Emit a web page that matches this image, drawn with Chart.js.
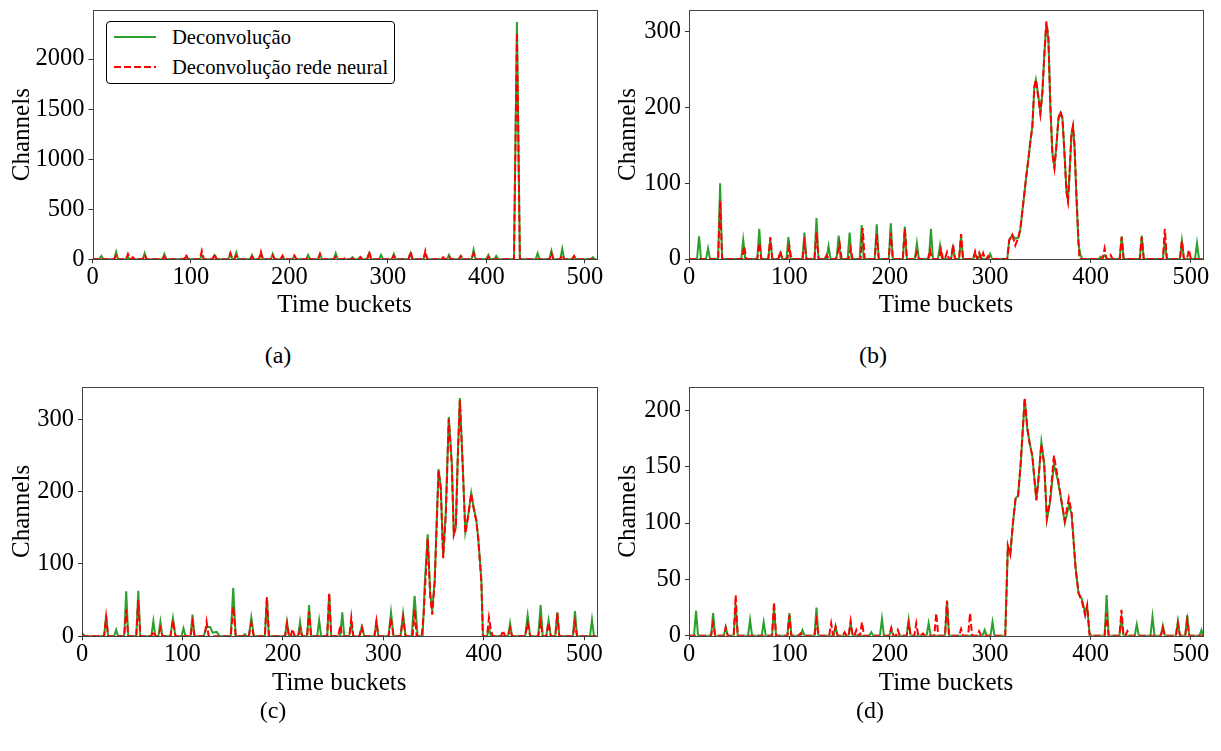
<!DOCTYPE html>
<html><head><meta charset="utf-8">
<script src="https://cdn.jsdelivr.net/npm/chart.js@4"></script>
<style>
body{margin:0;background:#fff;width:1221px;height:751px;position:relative;overflow:hidden;font-family:'Liberation Serif','DejaVu Serif',serif;color:#000}
canvas{position:absolute}
.cap{position:absolute;font-size:24px;transform:translate(-50%,-50%);white-space:nowrap}
#legend{position:absolute;left:106px;top:21px;width:289px;height:63px;border:1px solid #000;border-radius:4px;box-sizing:border-box;background:#fff}
.lt{position:absolute;left:65px;font-size:20.6px;transform:translateY(-50%);white-space:nowrap}
.ls{position:absolute;left:7px}
</style></head><body>
<canvas id="ca" width="610" height="330" style="left:0;top:0"></canvas>
<canvas id="cb" width="621" height="330" style="left:600px;top:0"></canvas>
<canvas id="cc" width="610" height="334" style="left:0;top:376px"></canvas>
<canvas id="cd" width="621" height="334" style="left:600px;top:376px"></canvas>
<div class="cap" style="left:278px;top:355px">(a)</div>
<div class="cap" style="left:873px;top:355px">(b)</div>
<div class="cap" style="left:273px;top:710px">(c)</div>
<div class="cap" style="left:870px;top:710px">(d)</div>
<div id="legend">
  <svg class="ls" style="top:13px" width="42" height="4"><line x1="0" y1="2" x2="42" y2="2" stroke="#2ca02c" stroke-width="2"/></svg>
  <div class="lt" style="top:15px">Deconvolução</div>
  <svg class="ls" style="top:43px" width="42" height="4"><line x1="0" y1="2" x2="42" y2="2" stroke="#ff0000" stroke-width="2" stroke-dasharray="7,3"/></svg>
  <div class="lt" style="top:45px">Deconvolução rede neural</div>
</div>
<script>
// ---- data ----
const seriesNames = ['Deconvolução', 'Deconvolução rede neural'];
const xTicks = [0, 100, 200, 300, 400, 500];
const yTicksA = [0, 500, 1000, 1500, 2000];
const yTicksB = [0, 100, 200, 300];
const yTicksC = [0, 100, 200, 300];
const yTicksD = [0, 50, 100, 150, 200];

const aGreen = [[0,0],[7,0],[9,33],[11,0],[22,0],[24,74],[26,0],[34,0],[36,27],[38,0],[51,0],[53,60],[55,0],[71,0],[73,54],[75,0],[93,0],[95,27],[97,0],[109,0],[111,44],[113,0],[122,0],[124,40],[126,0],[138,0],[140,60],[142,0],[144,0],[146,67],[148,0],[160,0],[162,44],[164,0],[169,0],[171,60],[173,0],[181,0],[183,54],[185,0],[191,0],[193,20],[195,0],[203,0],[205,35],[207,0],[217,0],[219,44],[221,0],[229,0],[231,50],[233,0],[245,0],[247,60],[249,0],[262,0],[264,20],[266,0],[270,0],[272,20],[274,0],[279,0],[281,60],[283,0],[291,0],[293,44],[295,0],[304,0],[306,54],[308,0],[321,0],[323,60],[325,0],[336,0],[338,54],[340,0],[360,0],[362,44],[364,0],[372,0],[374,30],[376,0],[385,0],[387,94],[389,0],[400,0],[402,44],[404,0],[408,0],[410,34],[412,0],[428,0],[431,2370],[434,0],[450,0],[452,60],[454,0],[464,0],[466,84],[468,0],[475,0],[477,104],[479,0],[487,0],[489,30],[491,0],[506,0],[508,20],[510,0],[512,0]];
const aRed = [[0,0],[7,0],[9,15],[11,0],[22,0],[24,37],[26,0],[34,0],[36,54],[38,0],[39,0],[41,20],[43,0],[51,0],[53,44],[55,0],[71,0],[73,27],[75,0],[93,0],[95,47],[97,0],[109,0],[111,84],[113,0],[122,0],[124,54],[126,0],[138,0],[140,60],[142,0],[144,0],[146,37],[148,0],[160,0],[162,27],[164,0],[169,0],[171,74],[173,0],[181,0],[183,37],[185,0],[191,0],[193,37],[195,0],[203,0],[205,37],[207,0],[217,0],[219,27],[221,0],[229,0],[231,54],[233,0],[245,0],[247,27],[249,0],[254,0],[256,10],[258,0],[262,0],[264,10],[266,0],[270,0],[272,23],[274,0],[279,0],[281,77],[283,0],[291,0],[293,20],[295,0],[304,0],[306,37],[308,0],[321,0],[323,77],[325,0],[336,0],[338,84],[340,0],[354,0],[356,20],[358,0],[360,0],[362,27],[364,0],[372,0],[374,34],[376,0],[385,0],[387,60],[389,0],[400,0],[402,27],[404,0],[428,0],[431,2260],[434,0],[464,0],[466,60],[468,0],[475,0],[477,44],[479,0],[487,0],[489,34],[491,0],[512,0]];

const bGreen = [[0,0],[8,0],[10,30],[12,0],[17,0],[19,14],[21,0],[29,0],[31,100],[33,0],[52,0],[54,25],[56,0],[68,0],[70,40],[72,0],[79,0],[81,27],[83,0],[89,0],[91,8],[93,0],[97,0],[99,29],[101,0],[113,0],[115,35],[117,0],[125,0],[127,54],[129,0],[137,0],[139,17],[141,0],[147,0],[149,31],[151,0],[158,0],[160,35],[162,0],[170,0],[172,45],[174,0],[185,0],[187,46],[189,0],[199,0],[201,47],[203,0],[213,0],[215,43],[217,0],[225,0],[227,21],[229,0],[239,0],[241,40],[243,0],[248,0],[250,18],[252,0],[261,0],[263,15],[265,0],[269,0],[271,30],[273,0],[283,0],[285,8],[287,0],[288,0],[290,6],[292,0],[298,0],[300,7],[302,0],[317,0],[319,25],[322,32],[325,27],[328,28],[330,39],[333,74],[336,110],[338,131],[340,155],[342,175],[344,227],[345.5,237],[347,225],[348.5,210],[350,193],[352,220],[354,270],[356,312],[358,290],[360,200],[362,140],[364,122],[366,150],[368,185],[370,193],[372,185],[374,140],[376,90],[377.5,78],[379,110],[381,165],[382.5,175],[384,150],[386,80],[388,20],[390,5],[392,0],[408,0],[410,3],[412,3],[414,5],[416,0],[429,0],[431,30],[433,0],[449,0],[451,31],[453,0],[472,0],[474,23],[476,0],[489,0],[491,24],[493,0],[504,0],[506,21],[508,0],[512,0]];
const bRed = [[0,0],[29,0],[31,77],[33,0],[53,0],[55,17],[57,0],[68,0],[70,21],[72,0],[79,0],[81,29],[83,0],[89,0],[91,10],[93,0],[98,0],[100,17],[102,0],[113,0],[115,21],[117,0],[125,0],[127,35],[129,0],[135,0],[137,5],[139,0],[146,0],[148,7],[150,21],[152,0],[159,0],[161,14],[163,0],[171,0],[173,41],[175,0],[185,0],[187,33],[189,0],[199,0],[201,35],[203,0],[213,0],[215,40],[217,0],[225,0],[227,9],[229,0],[238,0],[240,12],[242,0],[249,0],[251,13],[253,0],[255,0],[257,9],[259,0],[261,0],[263,19],[265,0],[269,0],[271,33],[273,0],[283,0],[285,10],[287,0],[289,8],[291,0],[293,8],[295,0],[296,0],[298,4],[300,0],[317,0],[319,25],[322,32],[325,18],[328,28],[330,39],[333,74],[336,110],[338,131],[340,155],[342,175],[344,227],[345.5,237],[347,222],[348.5,208],[350,192],[352,220],[354,272],[356,314],[358,292],[360,200],[362,138],[364,120],[366,150],[368,186],[370,195],[372,186],[374,140],[376,88],[377.5,76],[379,112],[381,166],[382.5,176],[384,150],[386,82],[388,22],[389,0],[412,0],[414,14],[416,0],[418,0],[420,5],[422,0],[429,0],[431,29],[433,0],[449,0],[451,29],[453,0],[472,0],[474,40],[476,0],[489,0],[491,24],[493,0],[496,0],[498,12],[500,0],[512,0]];

const cGreen = [[0,0],[1,3],[3,0],[22,0],[24,29],[26,0],[32,0],[34,9],[36,0],[42,0],[44,62],[46,0],[54,0],[56,63],[58,0],[69,0],[71,21],[73,0],[76,0],[78,20],[80,0],[88,0],[90.5,25],[93,0],[99,0],[101,11],[103,0],[108,0],[110,30],[112,0],[121,0],[124,13],[127.5,13],[130,5],[134,6],[137,0],[148,0],[150.5,67],[153,0],[160,0],[162,3],[164,0],[166,0],[168.5,26],[171,0],[182,0],[184,54],[186,0],[202,0],[204,20],[206,0],[215,0],[217,20],[219,0],[224,0],[226,43],[228,0],[234,0],[236,22],[238,0],[244,0],[246,58],[248,0],[257,0],[259,33],[261,0],[266,0],[268,18],[270,0],[276,0],[278.5,13],[281,0],[291,0],[293,20],[295,0],[305,0],[307.5,33],[310,0],[317,0],[319.5,31],[322,0],[328,0],[331,56],[334,0],[339,0],[341,70],[344,141],[346.5,60],[348.5,35],[351,78],[354.8,231],[357,207],[359.4,110],[362,170],[365,303],[368,239],[370,142],[372,151],[374,250],[376,329],[378.8,239],[381.5,144],[384.6,170],[387.3,198],[389.6,179],[392.3,161],[394.2,138],[397.4,78],[399,0],[403,0],[405,11],[407,0],[424,0],[426,18],[428,0],[441,0],[443.5,29],[446,0],[454,0],[456.4,43],[458.5,0],[462,0],[464.3,22],[466.5,0],[471,0],[473,33],[475,0],[488.5,0],[490.6,35],[492.6,0],[505.5,0],[507.5,23],[509.5,0],[512,0]];
const cRed = [[0,0],[22,0],[24,27],[26,0],[42,0],[44,37],[46,0],[54,0],[56,50],[58,0],[69,0],[71,7],[73,0],[76,0],[78,11],[80,0],[88,0],[90.5,22],[93,0],[108,0],[110,19],[112,0],[122,0],[124,20],[126,0],[148,0],[150.5,41],[153,0],[166,0],[168.5,18],[171,0],[182,0],[184,54],[186,0],[202,0],[204,18],[206,0],[207.6,0],[209.6,10],[211.6,0],[215,0],[217,10],[219,0],[224,0],[226,34],[228,0],[244,0],[246,60],[248,0],[255,0],[257,15],[259,0],[266,0],[268,26],[270,0],[276,0],[278.5,13],[281,0],[291,0],[293,21],[295,0],[305,0],[307.5,25],[310,0],[317,0],[319.5,26],[322,0],[329,0],[331,37],[333,0],[338,0],[340,30],[344,135],[346.5,55],[348.5,30],[351,75],[354.8,229],[357,205],[359.4,108],[362,168],[365,300],[368,237],[370,140],[372,150],[374,248],[376,326],[378.8,237],[381.5,142],[384.6,168],[387.3,197],[389.6,178],[392.3,160],[394.2,136],[397.4,76],[399,0],[403,0],[405,26],[407,8],[409,0],[417,0],[419,8],[421,0],[424,0],[426,11],[428,0],[441,0],[443.5,18],[446,0],[454,0],[456.4,20],[458.5,0],[462,0],[464.3,19],[466.5,0],[471,0],[473,32],[475,0],[488.5,0],[490.6,20],[492.6,0],[512,0]];

const dGreen = [[0,0],[5,0],[7,22],[9,0],[22,0],[24,20],[26,0],[34.6,0],[36.6,7.5],[38.6,0],[44.5,0],[46.5,28],[48.5,0],[58.8,0],[60.8,14],[62.8,0],[72.4,0],[74.4,12],[76.4,0],[82.7,0],[84.7,25],[86.7,0],[98,0],[100,20],[102,0],[111,0],[113,5],[115,0],[125,0],[127,25],[129,0],[144,0],[146,8],[148,0],[159,0],[161,11],[163,0],[179.6,0],[181.6,3],[183.6,0],[190.2,0],[192.2,15],[194.2,0],[199.5,0],[201.5,6],[203.5,0],[216.8,0],[218.8,14],[220.8,0],[236.7,0],[238.7,11],[240.7,0],[255,0],[257,31],[259,0],[292.5,0],[294.5,5],[296.5,0],[300.3,0],[302.3,12],[304.3,0],[315,0],[317.6,79],[320,73],[322.7,100],[325.4,122],[327.8,124],[330.5,153],[334.4,210],[337,183],[339.4,171],[342,159],[346,121],[348,138],[351,172],[353.8,153],[356.5,103],[359.6,118],[363.5,152],[367.4,138],[371.3,118],[374.4,100],[378.3,115],[381,109],[385,62],[388,38],[391.5,32],[394.6,20],[396.6,26],[399,2],[401,0],[414,0],[416,36],[418,0],[428.8,0],[430.8,16],[432.8,0],[444,0],[446,10],[448,0],[459.7,0],[461.7,17],[463.7,0],[470,0],[472,9],[474,0],[485,0],[487,13],[489,0],[494.3,0],[496.3,18],[498.3,0],[508.5,0],[510.5,5],[512,0]];
const dRed = [[0,0],[22,0],[24,11],[26,0],[34.6,0],[36.6,7.5],[38.6,0],[44.5,0],[46.5,36],[48.5,0],[82.7,0],[84.7,30],[86.7,0],[98,0],[100,18],[102,0],[109,0],[111,2],[113,0],[125,0],[127,13],[129,0],[139.6,0],[141.6,11],[143.6,0],[144,0],[146,8],[148,0],[153,0],[155,3],[157,0],[159,0],[161,13],[163,0],[164.7,0],[166.7,5],[168.7,0],[170.3,0],[172.3,12],[174.3,0],[199.5,0],[201.5,7],[203.5,0],[206,0],[208,5],[210,0],[216.8,0],[218.8,11],[220.8,0],[224.4,0],[226.4,11],[228.4,0],[231,0],[233,2],[235,0],[244.3,0],[246.3,20],[248.3,0],[255,0],[257,31],[259,0],[269,0],[271,6],[273,0],[278,0],[280,20],[282,0],[287,0],[289,4],[291,0],[315,0],[317.6,80],[320,72],[322.7,100],[325.4,123],[327.8,124],[330.5,155],[334.4,211],[337,185],[339.4,170],[342,160],[346,120],[348,138],[351,170],[353.8,152],[356.5,104],[359.6,120],[363.5,160],[367.4,140],[371.3,118],[374.4,102],[378.3,122],[381,110],[385,60],[388,38],[391.5,30],[394.6,18],[396.6,27],[399,0],[414,0],[416,20],[418,0],[428.8,0],[430.8,23],[432.8,0],[434.7,0],[436.7,4],[438.7,0],[470,0],[472,7],[474,0],[485,0],[487,11],[489,0],[494.3,0],[496.3,14],[498.3,0],[512,0]];

const yMaxA = 2490, yMaxB = 329, yMaxC = 345, yMaxD = 221;

// ---- rendering ----
const FAMILY = "'Liberation Serif','DejaVu Serif',serif";
Chart.defaults.font.family = FAMILY;
Chart.defaults.color = '#000';

const framePlugin = {
  id: 'frame',
  afterDraw(chart) {
    const {ctx, chartArea: a} = chart;
    ctx.save();
    ctx.strokeStyle = '#444';
    ctx.lineWidth = 1;
    ctx.strokeRect(Math.round(a.left) + 0.5, Math.round(a.top) + 0.5,
      Math.round(a.right) - Math.round(a.left), Math.round(a.bottom) - Math.round(a.top));
    ctx.restore();
  }
};

const toXY = arr => arr.map(p => ({x: p[0], y: p[1]}));

function makeChart(id, green, red, yMax, yTicks, g) {
  new Chart(document.getElementById(id), {
    type: 'line',
    data: {
      datasets: [
        {label: seriesNames[0], data: toXY(green), borderColor: '#2ca02c', borderWidth: 2,
         pointRadius: 0, tension: 0, fill: false, order: 2},
        {label: seriesNames[1], data: toXY(red), borderColor: '#ff0000', borderWidth: 2,
         borderDash: [7, 3], pointRadius: 0, tension: 0, fill: false, order: 1}
      ]
    },
    options: {
      responsive: false,
      animation: false,
      devicePixelRatio: 1,
      layout: {padding: {top: g.padTop, right: g.padRight, left: 0, bottom: 0}},
      plugins: {legend: {display: false}, tooltip: {enabled: false}},
      scales: {
        x: {
          type: 'linear', min: 0, max: 512,
          afterBuildTicks: s => { s.ticks = xTicks.map(v => ({value: v})); },
          afterFit: s => { s.height = g.xH; s.paddingLeft = 0; s.paddingRight = 0; },
          border: {display: false},
          grid: {drawOnChartArea: false, drawTicks: true, tickLength: 4, color: '#333'},
          ticks: {font: {family: FAMILY, size: 24.5}, color: '#000', padding: 0, maxRotation: 0,
                  autoSkip: false, callback: v => String(v)},
          title: {display: true, text: 'Time buckets', color: '#000', font: {family: FAMILY, size: 25},
                  padding: {top: 0, bottom: g.xTitlePad}}
        },
        y: {
          type: 'linear', min: 0, max: yMax,
          afterBuildTicks: s => { s.ticks = yTicks.map(v => ({value: v})); },
          afterFit: s => { s.width = g.yW; s.paddingTop = 0; s.paddingBottom = 0; },
          border: {display: false},
          grid: {drawOnChartArea: false, drawTicks: true, tickLength: 4, color: '#333'},
          ticks: {font: {family: FAMILY, size: 24.5}, color: '#000', padding: 4, callback: v => String(v)},
          title: {display: true, text: 'Channels', color: '#000', font: {family: FAMILY, size: 25},
                  padding: {top: g.yTitlePad, bottom: 0}}
        }
      }
    },
    plugins: [framePlugin]
  });
}

makeChart('ca', aGreen, aRed, yMaxA, yTicksA, {padTop: 10, padRight: 13.3, yW: 92.5, xH: 70.7, xTitlePad: 10, yTitlePad: 7});
makeChart('cb', bGreen, bRed, yMaxB, yTicksB, {padTop: 10, padRight: 18, yW: 89, xH: 71, xTitlePad: 10, yTitlePad: 13});
makeChart('cc', cGreen, cRed, yMaxC, yTicksC, {padTop: 10.5, padRight: 13.5, yW: 82, xH: 73.7, xTitlePad: 12, yTitlePad: 7});
makeChart('cd', dGreen, dRed, yMaxD, yTicksD, {padTop: 10.7, padRight: 18, yW: 89, xH: 74.3, xTitlePad: 12, yTitlePad: 13});
</script>
</body></html>
